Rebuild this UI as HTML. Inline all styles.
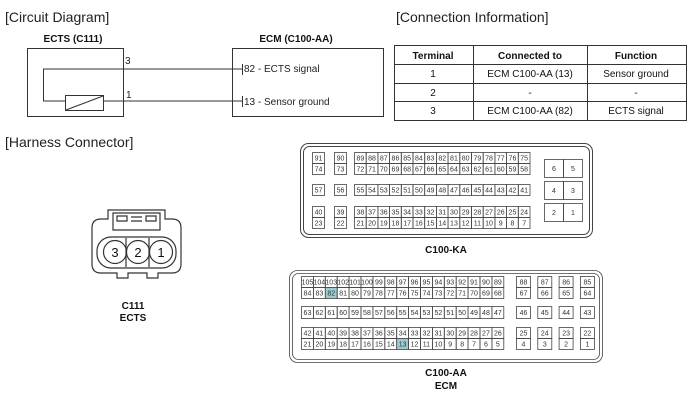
<!DOCTYPE html>
<html><head><meta charset="utf-8"><style>
body{margin:0;background:#fff}
svg{display:block;font-family:"Liberation Sans",Arial,sans-serif}
.t{font-size:7px;fill:#333}
</style></head><body>
<svg width="700" height="402" viewBox="0 0 700 402" xmlns="http://www.w3.org/2000/svg">
<g fill="#222" font-size="14">
<text x="5" y="22">[Circuit Diagram]</text>
<text x="396" y="22">[Connection Information]</text>
<text x="5" y="147">[Harness Connector]</text>
</g>
<g fill="#111" font-size="10" font-weight="bold" text-anchor="middle">
<text x="73" y="42">ECTS (C111)</text>
<text x="296" y="42">ECM (C100-AA)</text>
</g>
<g fill="none" stroke="#333" stroke-width="1">
<rect x="27.5" y="48.5" width="96" height="68"/>
<rect x="232.5" y="48.5" width="151" height="68"/>
<path d="M242 69H43.5V101H65.5M104 101H242"/>
<rect x="65.5" y="95.5" width="38" height="15"/>
<path d="M66 110L103 96"/>
<path d="M242.5 64V75M242.5 96V107"/>
</g>
<g fill="#222" font-size="10">
<text x="125" y="64">3</text><text x="126" y="98">1</text>
<text x="244" y="72">82 - ECTS signal</text>
<text x="244" y="105">13 - Sensor ground</text>
</g>
<g fill="none" stroke="#333" stroke-width="1">
<rect x="394.5" y="45.5" width="292" height="75"/>
<path d="M394 64.5H687M394 83.5H687M394 101.5H687M473.5 45V121M587.5 45V121"/>
</g>
<g fill="#111" font-size="10" text-anchor="middle">
<g font-weight="bold"><text x="433" y="59">Terminal</text><text x="530" y="59">Connected to</text><text x="636" y="59">Function</text></g>
<text x="433" y="77">1</text><text x="530" y="77">ECM C100-AA (13)</text><text x="636" y="77">Sensor ground</text>
<text x="433" y="96">2</text><text x="530" y="96">-</text><text x="636" y="96">-</text>
<text x="433" y="114">3</text><text x="530" y="114">ECM C100-AA (82)</text><text x="636" y="114">ECTS signal</text>
</g>
<!-- C111 -->
<g fill="none" stroke="#333" stroke-width="1.2">
<path d="M108 210H165V219H172Q181 219 181 228V264Q181 273 172 273H158V278H147V273H128V278H117V273H101Q92 273 92 264V228Q92 219 101 219H108Z"/>
<path d="M113 213V230H160V213Z M117 216H127V221H117Z M131 217H142M131 221H142M146 216H156V221H146Z"/>
<rect x="97" y="237" width="79" height="31" rx="14"/>
<path d="M126 238V267M149 238V267"/>
<circle cx="115" cy="252" r="11.5"/><circle cx="138" cy="252" r="11.5"/><circle cx="161" cy="252" r="11.5"/>
</g>
<g fill="#111" font-size="13" text-anchor="middle"><text x="115" y="257">3</text><text x="138" y="257">2</text><text x="161" y="257">1</text></g>
<g fill="#111" font-size="10" font-weight="bold" text-anchor="middle">
<text x="133" y="309">C111</text><text x="133" y="321">ECTS</text>
<text x="446" y="253">C100-KA</text>
<text x="446" y="376">C100-AA</text><text x="446" y="389">ECM</text>
</g>
<g fill="none" stroke="#444">
<rect x="300.5" y="143.5" width="292" height="94" rx="8"/>
<rect x="303.5" y="146.5" width="286" height="88" rx="6"/>
</g>
<g id="ka" fill="none" stroke="#444" stroke-width="0.8"></g>
<g id="aa" fill="none" stroke="#444" stroke-width="0.8">
<rect x="289.5" y="270.5" width="313" height="92" rx="8"/>
<rect x="292.5" y="273.5" width="307" height="86" rx="6"/>
</g>
<g id="tx" class="t" text-anchor="middle"></g>
</svg>
<script>
var ns="http://www.w3.org/2000/svg";
function cell(g,x,y,w,h,t,fill){var r=document.createElementNS(ns,"rect");r.setAttribute("x",x+.5);r.setAttribute("y",y+.5);r.setAttribute("width",w);r.setAttribute("height",h);if(fill){r.setAttribute("fill",fill);}document.getElementById(g).appendChild(r);
var s=document.createElementNS(ns,"text");s.setAttribute("x",x+w/2+.5);s.setAttribute("y",y+h/2+3);s.textContent=t;document.getElementById("tx").appendChild(s);}
var w=11.7;
function kaRow(y,h,a,b,start){cell("ka",312,y,12,h,a);cell("ka",334,y,12,h,b);for(var i=0;i<15;i++)cell("ka",354+i*w,y,w,h,start-i);}
kaRow(152,11,"91","90",89);kaRow(163,11,"74","73",72);kaRow(184,11,"57","56",55);kaRow(206,11,"40","39",38);kaRow(217,11,"23","22",21);
[[159,"6","5"],[181,"4","3"],[203,"2","1"]].forEach(function(r){cell("ka",544,r[0],19,18,r[1]);cell("ka",563,r[0],19,18,r[2]);});
var w2=11.9;
function aaRow(y,h,start,rs,hl){for(var i=0;i<17;i++){var n=start-i;cell("aa",301+i*w2,y,w2,h,n,n==hl?"#9ccbd0":null);}
rs.forEach(function(n,j){cell("aa",516+j*21.3,y,14,h,n);});}
aaRow(276,11,105,[88,87,86,85]);aaRow(287,11,84,[67,66,65,64],82);aaRow(306,12,63,[46,45,44,43]);aaRow(327,11,42,[25,24,23,22]);aaRow(338,11,21,[4,3,2,1],13);
</script>
</body></html>
